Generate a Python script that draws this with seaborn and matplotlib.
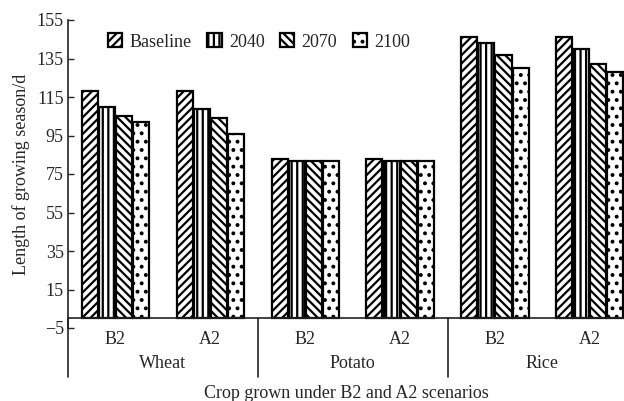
import matplotlib
matplotlib.use('Agg')
import matplotlib.pyplot as plt
import matplotlib.transforms as mtransforms
import pandas as pd
import seaborn as sns

# Data
crops = ['Wheat', 'Potato', 'Rice']
scenarios = ['B2', 'A2']
periods = ['Baseline', '2040', '2070', '2100']
baseline = [118, 118, 83, 83, 146, 146]
y2040 = [110, 109, 82, 82, 143, 140]
y2070 = [105, 104, 82, 82, 137, 132]
y2100 = [102, 96, 82, 82, 130, 128]
hatches = ['////', '|||', '\\\\\\\\', '..']

clusters = [c + ' ' + s for c in crops for s in scenarios]
rows = []
for period, vals in zip(periods, [baseline, y2040, y2070, y2100]):
    for cl, v in zip(clusters, vals):
        rows.append({'cluster': cl, 'period': period, 'value': v})
df = pd.DataFrame(rows)

sns.set_style('white')
plt.rcParams['font.family'] = ['Liberation Serif', 'DejaVu Serif']
plt.rcParams['hatch.linewidth'] = 1.6
plt.rcParams['hatch.color'] = 'black'
fs = 13

fig = plt.figure(figsize=(6.24, 4.01), dpi=100)
ax = fig.add_axes([68 / 624, 1 - 328 / 401, 1 - 68 / 624, 308 / 401])

sns.barplot(data=df, x='cluster', y='value', hue='period', order=clusters,
            hue_order=periods, width=0.72, gap=0.06, legend=False, ax=ax)

for cont, h in zip(ax.containers, hatches):
    for bar in cont:
        bar.set_facecolor('white')
        bar.set_edgecolor('black')
        bar.set_linewidth(1.6)
        bar.set_hatch(h)

ax.set_ylim(-5, 155)
ax.set_xlim(-0.5, 5.36)
ax.set_yticks(range(-5, 156, 20))
ax.set_xticks(range(len(clusters)))
ax.set_xticklabels([s for c in crops for s in scenarios])
ax.tick_params(axis='y', direction='in', length=4, width=1, labelsize=fs, pad=3, left=True)
ax.tick_params(axis='x', length=0, labelsize=fs, pad=9)
ax.spines['top'].set_visible(False)
ax.spines['right'].set_visible(False)
ax.spines['bottom'].set_position(('data', 0))
for sp in ['left', 'bottom']:
    ax.spines[sp].set_linewidth(1.2)
    ax.spines[sp].set_color('#222222')

ax.set_xlabel('Crop grown under B2 and A2 scenarios', fontsize=fs)
ax.xaxis.set_label_coords(0.5, -57 / 308)
ax.set_ylabel('Length of growing season/d', fontsize=fs, labelpad=5)

# group separators and crop names below the axis
trans = mtransforms.blended_transform_factory(ax.transData, ax.transAxes)
for xs in [-0.5, 1.5, 3.5]:
    ax.plot([xs, xs], [5 / 160, -49 / 308], transform=trans, color='#222222',
            lw=1.2, clip_on=False)
for i, crop in enumerate(crops):
    ax.text(2 * i + 0.5, -35 / 308, crop, transform=trans, ha='center',
            va='center', fontsize=fs)

ax.legend(handles=list(ax.containers), labels=periods, loc='center left',
          bbox_to_anchor=(99 / 624, 1 - 42 / 401), bbox_transform=fig.transFigure,
          ncol=4, frameon=False, fontsize=fs, handlelength=0.8, handleheight=0.8,
          handletextpad=0.4, columnspacing=0.85, borderpad=0)

fig.savefig('out.png', dpi=100)
